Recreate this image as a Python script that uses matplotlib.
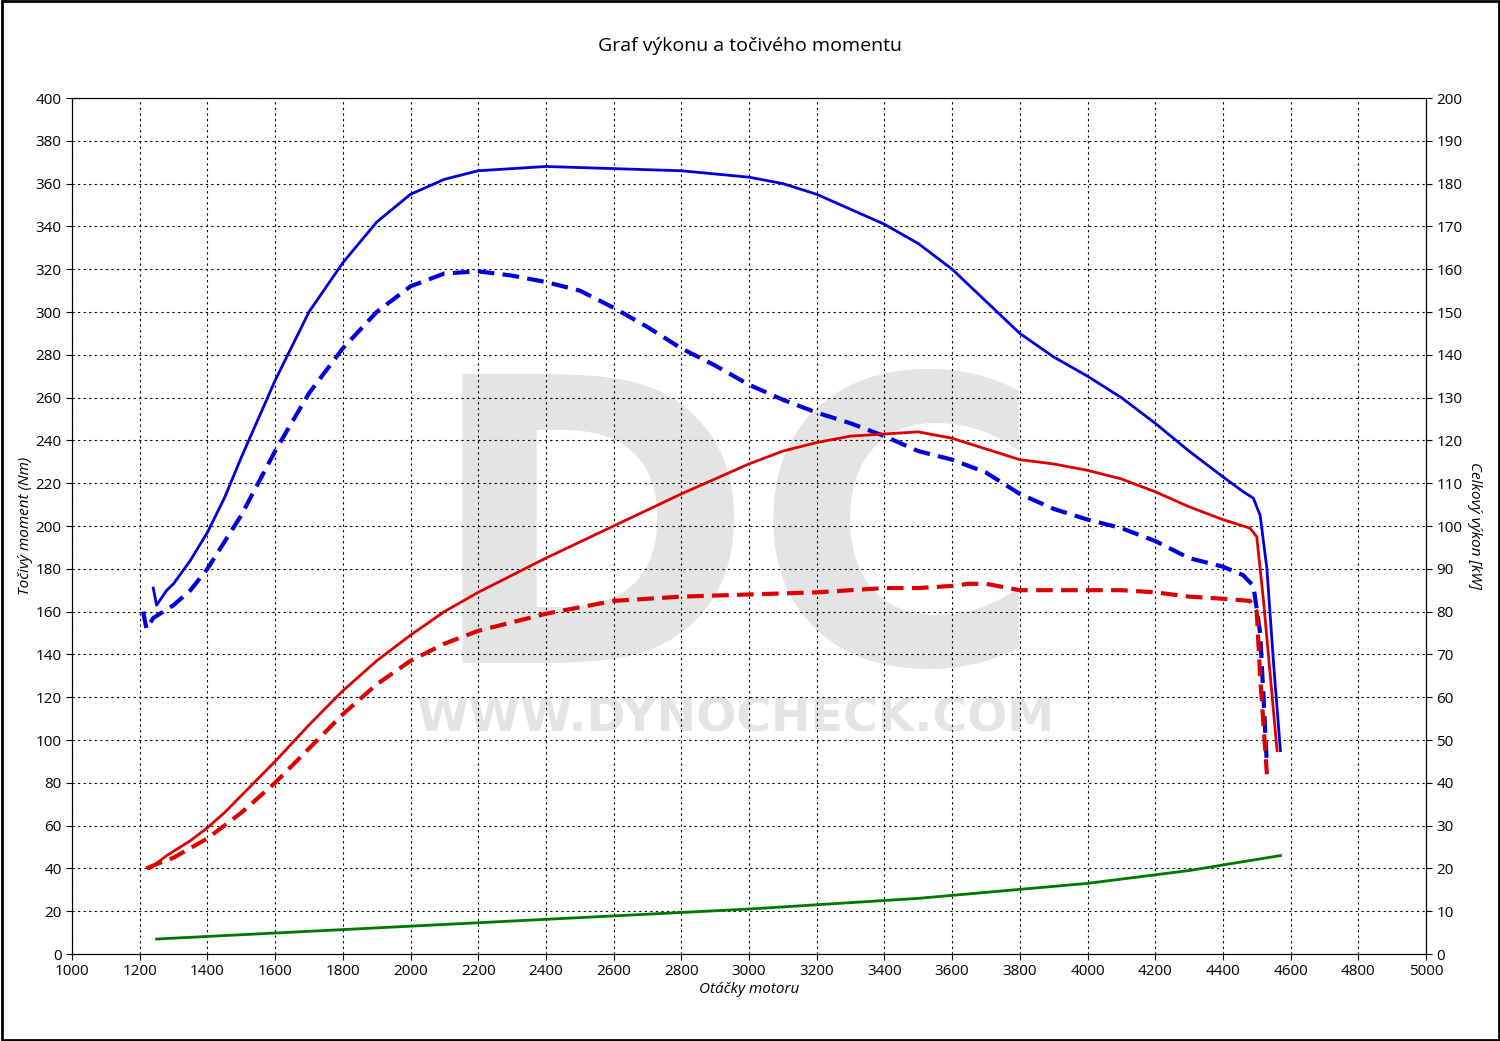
import matplotlib
matplotlib.use("Agg")
import matplotlib.pyplot as plt
from matplotlib.patches import Rectangle

plt.rcParams['font.family'] = ['Open Sans', 'DejaVu Sans']

tq_rpm = [1240,1250,1280,1300,1350,1400,1450,1500,1600,1700,1800,1900,2000,2100,2200,2400,2600,2800,3000,3100,3200,3400,3500,3600,3700,3800,3900,4000,4100,4200,4300,4400,4460,4490,4510,4530,4550,4570]
tq_after = [171,163,170,173,184,197,213,232,268,300,323,342,355,362,366,368,367,366,363,360,355,341,332,320,305,290,279,270,260,248,235,223,216,213,205,180,135,95]
tq2_rpm = [1210,1220,1240,1300,1350,1400,1500,1600,1700,1800,1900,2000,2100,2200,2300,2400,2500,2600,2700,2800,2900,3000,3100,3200,3300,3400,3500,3600,3700,3800,3900,4000,4100,4200,4300,4400,4460,4490,4510,4520,4530]
tq_before = [160,152,157,163,170,180,205,235,262,283,300,312,318,319,317,314,310,302,293,283,275,266,259,253,248,242,235,231,225,215,208,203,199,193,185,181,177,172,150,120,88]
pw_rpm = [1230,1280,1350,1400,1450,1500,1600,1700,1800,1900,2000,2100,2200,2400,2600,2800,3000,3100,3200,3300,3400,3500,3600,3700,3800,3900,4000,4100,4200,4300,4400,4480,4500,4520,4540,4560]
pw_after = [20,23,26.5,29.5,33,37,45,53.5,61.5,68.5,74.5,80,84.5,92.5,100,107.5,114.5,117.5,119.5,121,121.5,122,120.5,118,115.5,114.5,113,111,108,104.5,101.5,99.5,97.5,82.5,65,47.5]
pw2_rpm = [1220,1250,1300,1400,1500,1600,1700,1800,1900,2000,2100,2200,2400,2600,2800,3000,3200,3400,3500,3600,3650,3700,3800,3900,4000,4100,4200,4300,4400,4480,4500,4510,4530]
pw_before = [20,21,22.5,27,33,40,48,56,63,68.5,72.5,75.5,79.5,82.5,83.5,84,84.5,85.5,85.5,86,86.5,86.5,85,85,85,85,84.5,83.5,83,82.5,80,65,42]
loss_rpm = [1250,1500,2000,2500,3000,3500,4000,4300,4570]
loss_kw = [3.5,4.5,6.5,8.5,10.5,13,16.5,19.5,23]

fig = plt.figure(figsize=(15, 10.41), dpi=100)
ax = fig.add_axes([72/1500, 1-954/1041, 1354/1500, 856/1041])
ax2 = ax.twinx()

ax.text(2960, 136, "DC", fontsize=285, fontweight='bold', family='DejaVu Sans', color='#e4e4e4', ha='center', va='baseline', zorder=0)
ax.text(2960, 110, "WWW.DYNOCHECK.COM", fontsize=34, fontweight='bold', family='DejaVu Sans', color='#e4e4e4', ha='center', va='center', zorder=0)

ax.plot(tq_rpm, tq_after, color='#0000dd', lw=2, zorder=3)
ax.plot(tq2_rpm, tq_before, color='#0000dd', lw=3, ls=(0, (4, 2)), zorder=3)
ax2.plot(pw_rpm, pw_after, color='#dd0000', lw=2)
ax2.plot(pw2_rpm, pw_before, color='#dd0000', lw=3, ls=(0, (4, 2)))
ax2.plot(loss_rpm, loss_kw, color='#007700', lw=2)

ax.set_xlim(1000, 5000); ax.set_ylim(0, 400); ax2.set_ylim(0, 200)
ax.set_xticks(range(1000, 5001, 200)); ax.set_yticks(range(0, 401, 20)); ax2.set_yticks(range(0, 201, 10))
ax.grid(True, color='black', ls=(0, (2, 3)), lw=0.8)
for a in (ax, ax2):
    a.tick_params(labelsize=11, length=4, direction='out')
ax.set_xlabel("Otáčky motoru", fontsize=11, style='italic', labelpad=2)
ax.set_ylabel("Točivý moment (Nm)", fontsize=11, style='italic', labelpad=2)
ax2.set_ylabel("Celkový výkon [kW]", fontsize=11, style='italic', rotation=-90, labelpad=14)
fig.text(0.5, 1-46/1041, "Graf výkonu a točivého momentu", fontsize=14, ha='center', va='center')
fig.patches.append(Rectangle((0.001, 0.001), 0.998, 0.998, transform=fig.transFigure, fill=False, ec='black', lw=2))
fig.savefig("out.png", dpi=100)
